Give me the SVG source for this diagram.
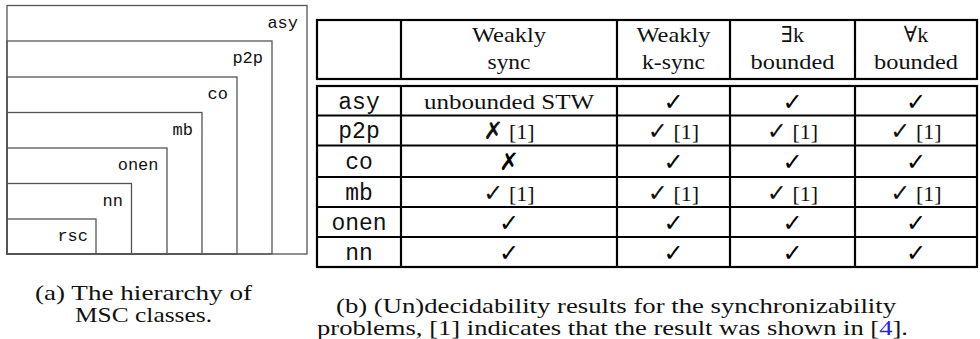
<svg xmlns="http://www.w3.org/2000/svg" width="980" height="339" viewBox="0 0 980 339">
<style>
.bx{fill:none;stroke:#555;stroke-width:1.3}
.lb{font-family:"Liberation Mono","DejaVu Sans Mono",monospace;font-size:17px;text-anchor:end;fill:#111}
.rl{fill:none;stroke:#000;stroke-width:2.2}
.sr{font-family:"Liberation Serif","DejaVu Serif",serif;font-size:22px;fill:#111}
.tt{font-family:"Liberation Mono","DejaVu Sans Mono",monospace;font-size:23px;fill:#111}
.ck{font-family:"DejaVu Sans",sans-serif;font-size:24px;font-weight:bold}
.m{text-anchor:middle}
.cap{font-family:"Liberation Serif","DejaVu Serif",serif;font-size:21px;fill:#111}
.blue{fill:#2020ff}
</style>
<rect width="980" height="339" fill="#fff"/>
<g id="hierarchy">
  <g id="box-asy"><rect class="bx" x="7" y="5.5" width="300" height="248.5"/><text class="lb" x="298" y="27.5">asy</text></g>
  <g id="box-p2p"><rect class="bx" x="7" y="41" width="265" height="213"/><text class="lb" x="263" y="63">p2p</text></g>
  <g id="box-co"><rect class="bx" x="7" y="77" width="230" height="177"/><text class="lb" x="228" y="99">co</text></g>
  <g id="box-mb"><rect class="bx" x="7" y="112.5" width="195" height="141.5"/><text class="lb" x="193" y="134.5">mb</text></g>
  <g id="box-onen"><rect class="bx" x="7" y="148" width="160" height="106"/><text class="lb" x="158.5" y="170">onen</text></g>
  <g id="box-nn"><rect class="bx" x="7" y="183.5" width="124.5" height="70.5"/><text class="lb" x="123" y="205.5">nn</text></g>
  <g id="box-rsc"><rect class="bx" x="7" y="219" width="89" height="35"/><text class="lb" x="88" y="241">rsc</text></g>
</g>
<g id="table">
  <g id="rules">
    <rect class="rl" x="317" y="20" width="660" height="59"/>
    <rect class="rl" x="317" y="86" width="660" height="181"/>
    <path class="rl" d="M401 20V79M617 20V79M730 20V79M855 20V79M401 86V267M617 86V267M730 86V267M855 86V267M317 115.5H977M317 145.5H977M317 207H977M317 237H977"/>
    <path class="rl" d="M317 177H977" stroke-width="3"/>
  </g>
  <g id="header">
    <text class="sr m" x="509" y="42" textLength="74" lengthAdjust="spacingAndGlyphs">Weakly</text>
    <text class="sr m" x="509" y="69" textLength="43" lengthAdjust="spacingAndGlyphs">sync</text>
    <text class="sr m" x="673.5" y="42" textLength="74" lengthAdjust="spacingAndGlyphs">Weakly</text>
    <text class="sr m" x="673.5" y="69" textLength="63" lengthAdjust="spacingAndGlyphs">k-sync</text>
    <text class="sr m" x="792.5" y="42">∃k</text>
    <text class="sr m" x="792.5" y="69" textLength="84" lengthAdjust="spacingAndGlyphs">bounded</text>
    <text class="sr m" x="916" y="42">∀k</text>
    <text class="sr m" x="916" y="69" textLength="84" lengthAdjust="spacingAndGlyphs">bounded</text>
  </g>
  <g id="row-asy">
    <text class="tt m" x="359" y="108.5">asy</text>
    <text class="sr m" x="509" y="108.5" textLength="170" lengthAdjust="spacingAndGlyphs">unbounded STW</text>
    <text class="ck m" x="673.5" y="109.5">✓</text>
    <text class="ck m" x="792.5" y="109.5">✓</text>
    <text class="ck m" x="916" y="109.5">✓</text>
  </g>
  <g id="row-p2p">
    <text class="tt m" x="359" y="138">p2p</text>
    <text class="sr m" x="509" y="139"><tspan class="ck">✗</tspan> [1]</text>
    <text class="sr m" x="673.5" y="139"><tspan class="ck">✓</tspan> [1]</text>
    <text class="sr m" x="792.5" y="139"><tspan class="ck">✓</tspan> [1]</text>
    <text class="sr m" x="916" y="139"><tspan class="ck">✓</tspan> [1]</text>
  </g>
  <g id="row-co">
    <text class="tt m" x="359" y="168.5">co</text>
    <text class="ck m" x="509" y="169.5">✗</text>
    <text class="ck m" x="673.5" y="169.5">✓</text>
    <text class="ck m" x="792.5" y="169.5">✓</text>
    <text class="ck m" x="916" y="169.5">✓</text>
  </g>
  <g id="row-mb">
    <text class="tt m" x="359" y="199.5">mb</text>
    <text class="sr m" x="509" y="200.5"><tspan class="ck">✓</tspan> [1]</text>
    <text class="sr m" x="673.5" y="200.5"><tspan class="ck">✓</tspan> [1]</text>
    <text class="sr m" x="792.5" y="200.5"><tspan class="ck">✓</tspan> [1]</text>
    <text class="sr m" x="916" y="200.5"><tspan class="ck">✓</tspan> [1]</text>
  </g>
  <g id="row-onen">
    <text class="tt m" x="359" y="229.5">onen</text>
    <text class="ck m" x="509" y="230.5">✓</text>
    <text class="ck m" x="673.5" y="230.5">✓</text>
    <text class="ck m" x="792.5" y="230.5">✓</text>
    <text class="ck m" x="916" y="230.5">✓</text>
  </g>
  <g id="row-nn">
    <text class="tt m" x="359" y="259.5">nn</text>
    <text class="ck m" x="509" y="260.5">✓</text>
    <text class="ck m" x="673.5" y="260.5">✓</text>
    <text class="ck m" x="792.5" y="260.5">✓</text>
    <text class="ck m" x="916" y="260.5">✓</text>
  </g>
</g>
<g id="captions">
  <text class="cap" x="35" y="300" textLength="217" lengthAdjust="spacingAndGlyphs">(a) The hierarchy of</text>
  <text class="cap" x="75" y="322" textLength="137" lengthAdjust="spacingAndGlyphs">MSC classes.</text>
  <text class="cap" x="336" y="313" textLength="560" lengthAdjust="spacingAndGlyphs">(b) (Un)decidability results for the synchronizability</text>
  <text class="cap" x="317" y="335" textLength="591" lengthAdjust="spacingAndGlyphs">problems, [1] indicates that the result was shown in [<tspan class="blue">4</tspan>].</text>
</g>
</svg>
